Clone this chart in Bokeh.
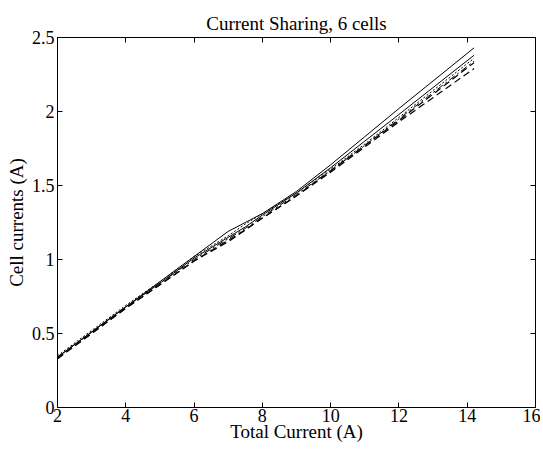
from bokeh.plotting import figure
from bokeh.models import LinearAxis, FixedTicker, Range1d, CustomLabelingPolicy
from bokeh.embed import file_html
from bokeh.resources import INLINE

# Data
total_current = [2, 3, 4, 5, 6, 7, 7.5, 8, 9, 10, 11, 12, 14.2]
cell1 = [0.34, 0.51, 0.68, 0.85, 1.02, 1.19, 1.25, 1.31, 1.46, 1.64, 1.83, 2.02, 2.43]
cell2 = [0.34, 0.51, 0.68, 0.84, 1.01, 1.15, 1.22, 1.30, 1.45, 1.62, 1.80, 1.98, 2.38]
cell3 = [0.35, 0.52, 0.69, 0.85, 1.02, 1.16, 1.24, 1.31, 1.45, 1.61, 1.78, 1.96, 2.36]
cell4 = [0.34, 0.51, 0.68, 0.84, 1.00, 1.14, 1.21, 1.29, 1.44, 1.60, 1.77, 1.95, 2.34]
cell5 = [0.33, 0.50, 0.67, 0.83, 0.99, 1.13, 1.20, 1.28, 1.43, 1.60, 1.77, 1.94, 2.33]
cell6 = [0.33, 0.50, 0.67, 0.83, 0.99, 1.12, 1.20, 1.28, 1.43, 1.59, 1.76, 1.93, 2.29]

x_ticks = [2, 4, 6, 8, 10, 12, 14, 16]
y_ticks = [0, 0.5, 1, 1.5, 2, 2.5]
y_tick_labels = ["0", "0.5", "1", "1.5", "2", "2.5"]

FONT = "Liberation Serif"

p = figure(width=540, height=446, x_range=Range1d(2, 16), y_range=Range1d(0, 2.5),
           output_backend="svg", toolbar_location=None,
           title="Current Sharing, 6 cells",
           min_border_left=57, min_border_right=5, min_border_top=37, min_border_bottom=39,
           x_axis_label="Total Current (A)", y_axis_label="Cell currents (A)")

p.title.align = "center"
p.title.text_font = FONT
p.title.text_font_size = "19px"
p.title.text_font_style = "normal"
p.title.text_color = "black"
p.title.offset = 0
p.title.standoff = 0

p.xgrid.visible = False
p.ygrid.visible = False
p.outline_line_color = "black"
p.outline_line_width = 1
p.background_fill_color = "white"
p.border_fill_color = "white"

for ax in [p.xaxis[0], p.yaxis[0]]:
    ax.major_tick_in = 5
    ax.major_tick_out = 0
    ax.minor_tick_line_color = None
    ax.axis_line_color = "black"
    ax.major_label_text_font = FONT
    ax.major_label_text_font_size = "18px"
    ax.axis_label_text_font = FONT
    ax.axis_label_text_font_size = "19px"
    ax.axis_label_text_font_style = "normal"
    ax.major_label_text_color = "black"
    ax.axis_label_text_color = "black"

p.xaxis[0].ticker = FixedTicker(ticks=x_ticks)
p.yaxis[0].ticker = FixedTicker(ticks=y_ticks)
p.yaxis[0].major_label_overrides = {t: l for t, l in zip(y_ticks, y_tick_labels)}
p.xaxis[0].major_label_standoff = 1
p.xaxis[0].axis_label_standoff = -4
p.yaxis[0].major_label_standoff = 3
p.yaxis[0].axis_label_standoff = 2

HIDE = "for (const i of indices) indices.unset(i); return indices"
top = LinearAxis(ticker=FixedTicker(ticks=x_ticks), major_tick_in=5, major_tick_out=0,
                 minor_tick_line_color=None, major_label_policy=CustomLabelingPolicy(code=HIDE),
                 major_label_standoff=0, major_label_text_font_size="1px",
                 axis_label_standoff=0)
right = LinearAxis(ticker=FixedTicker(ticks=y_ticks), major_tick_in=5, major_tick_out=0,
                   minor_tick_line_color=None, major_label_policy=CustomLabelingPolicy(code=HIDE),
                   major_label_standoff=0, major_label_text_font_size="1px",
                   axis_label_standoff=0)
p.add_layout(top, "above")
p.add_layout(right, "right")

p.line(total_current, cell1, line_color="black", line_width=1)
p.line(total_current, cell2, line_color="black", line_width=1)
p.line(total_current, cell3, line_color="black", line_width=1, line_dash="2 2")
p.line(total_current, cell4, line_color="black", line_width=1, line_dash="7 3 2 3")
p.line(total_current, cell5, line_color="black", line_width=1.2, line_dash="7 4")
p.line(total_current, cell6, line_color="black", line_width=1.2, line_dash="7 4")

open("out.html", "w").write(file_html(p, INLINE))
